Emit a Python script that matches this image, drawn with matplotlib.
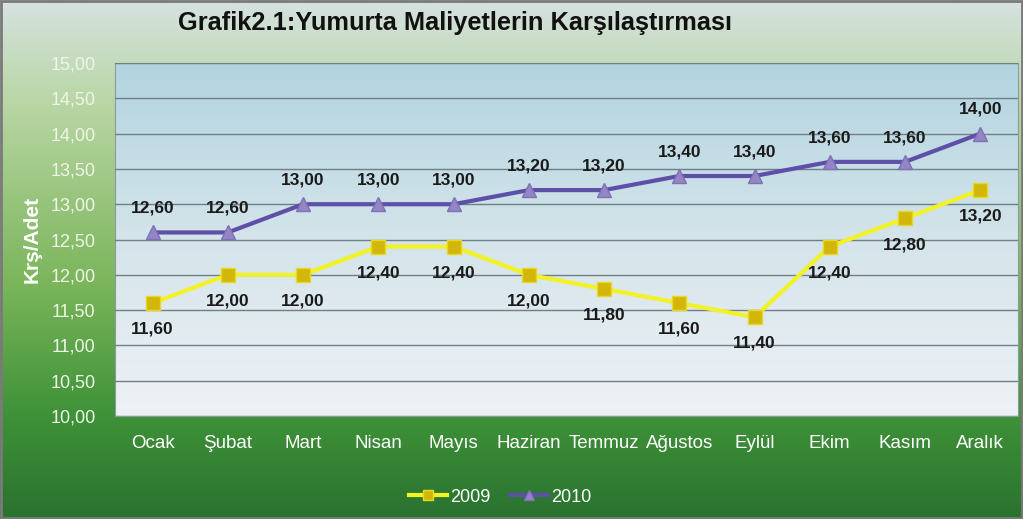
import numpy as np
import matplotlib
matplotlib.use('Agg')
import matplotlib.pyplot as plt
from matplotlib.colors import LinearSegmentedColormap

plt.rcParams['font.family'] = ['Liberation Sans', 'DejaVu Sans']

months = ['Ocak', 'Şubat', 'Mart', 'Nisan', 'Mayıs', 'Haziran', 'Temmuz',
          'Ağustos', 'Eylül', 'Ekim', 'Kasım', 'Aralık']
y2009 = [11.6, 12.0, 12.0, 12.4, 12.4, 12.0, 11.8, 11.6, 11.4, 12.4, 12.8, 13.2]
y2010 = [12.6, 12.6, 13.0, 13.0, 13.0, 13.2, 13.2, 13.4, 13.4, 13.6, 13.6, 14.0]
yticks = [10.0, 10.5, 11.0, 11.5, 12.0, 12.5, 13.0, 13.5, 14.0, 14.5, 15.0]

def tr(v):
    return '{:.2f}'.format(v).replace('.', ',')

fig = plt.figure(figsize=(10.23, 5.19), dpi=100)

# figure background gradient
bg = fig.add_axes([0, 0, 1, 1], zorder=-10)
bg_cmap = LinearSegmentedColormap.from_list('bg', [
    (0.0, '#d6e2e0'), (0.2, '#b9d6a4'), (0.55, '#7ab55a'),
    (0.8, '#3f9238'), (1.0, '#2a7230')])
bg.imshow(np.linspace(0, 1, 256).reshape(-1, 1), aspect='auto', cmap=bg_cmap,
          extent=[0, 1, 0, 1], origin='upper')
bg.set_axis_off()
fig.patches.append(plt.Rectangle((0.001, 0.001), 0.998, 0.997, transform=fig.transFigure,
                                 fill=False, edgecolor='#7a7a7a', linewidth=2))

ax = fig.add_axes([0.1124, 0.1985, 0.8826, 0.68])
pa_cmap = LinearSegmentedColormap.from_list('pa', ['#b2d4e0', '#d4e4ea', '#eef2f6'])
ax.imshow(np.linspace(0, 1, 256).reshape(-1, 1), aspect='auto', cmap=pa_cmap,
          extent=[-0.5, 11.5, 10.0, 15.0], origin='upper', zorder=0)

x = np.arange(len(months))
ax.plot(x, y2010, color='#5e4fa8', linewidth=3, marker='^', markersize=10,
        markerfacecolor='#9486c4', markeredgecolor='#8070b8', zorder=3, label='2010')
ax.plot(x, y2009, color='#f2f224', linewidth=3, marker='s', markersize=10,
        markerfacecolor='#d2b70a', markeredgecolor='#e8d820', zorder=3, label='2009')

for i in range(len(months)):
    ax.annotate(tr(y2010[i]), (x[i], y2010[i]), xytext=(0, 12), textcoords='offset points',
                ha='center', va='bottom', fontsize=12.5, fontweight='bold', color='#1a1a1a')
    ax.annotate(tr(y2009[i]), (x[i], y2009[i]), xytext=(0, -13.5), textcoords='offset points',
                ha='center', va='top', fontsize=12.5, fontweight='bold', color='#1a1a1a')

ax.set_xlim(-0.5, 11.5)
ax.set_ylim(10, 15)
ax.set_yticks(yticks)
ax.set_yticklabels([tr(v) for v in yticks], color='#eef6e8', fontsize=13)
ax.set_xticks(x)
ax.set_xticklabels(months, color='white', fontsize=13.5)
ax.tick_params(length=0, pad=14)
ax.tick_params(axis='y', pad=14)
ax.grid(axis='y', color='#6f7f86', linewidth=1)
ax.set_axisbelow(False)
for sp in ax.spines.values():
    sp.set_color('#8a9aa0')
ax.set_ylabel('Krş/Adet', color='white', fontsize=15, fontweight='bold', labelpad=6)

fig.text(0.445, 0.955, 'Grafik2.1:Yumurta Maliyetlerin Karşılaştırması', ha='center', va='center',
         fontsize=18.3, fontweight='bold', color='#111111')

h, l = ax.get_legend_handles_labels()
leg = fig.legend(h[::-1], l[::-1], loc='center', bbox_to_anchor=(0.489, 0.042), ncol=2,
                 frameon=False, fontsize=13, handlelength=2.1, columnspacing=1.1,
                 handletextpad=0.15, markerscale=0.75)
for t in leg.get_texts():
    t.set_color('white')

fig.savefig('out.png', dpi=100)
